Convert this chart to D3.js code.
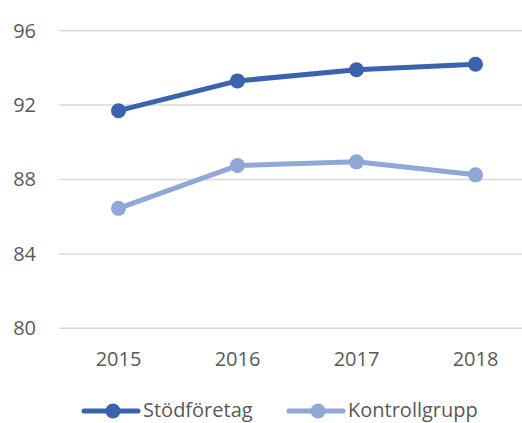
<!DOCTYPE html>
<html><head><meta charset="utf-8">
<script src="https://cdn.jsdelivr.net/npm/d3@7"></script>
<style>
html,body{margin:0;padding:0;background:#fff;}
svg{display:block;font-family:"Open Sans",sans-serif;}
</style></head>
<body>
<script>
const years = ["2015","2016","2017","2018"];
const stod = [91.7, 93.3, 93.9, 94.2];
const kontroll = [86.45, 88.75, 88.95, 88.25];
const seriesNames = ["Stödföretag","Kontrollgrupp"];
const seriesColors = ["#3A62AD","#8FA8D8"];
const yTicks = [80,84,88,92,96];

const W = 522, H = 423;
const svg = d3.select("body").append("svg").attr("width",W).attr("height",H);

const x = d3.scaleBand().domain(years).range([59,535]);
const y = d3.scaleLinear().domain([80,96]).range([328.3,30.7]);

// gridlines
svg.append("g").selectAll("line").data(yTicks).join("line")
  .attr("x1",59).attr("x2",W)
  .attr("y1",d=>y(d)).attr("y2",d=>y(d))
  .attr("stroke","#d9d9d9").attr("stroke-width",1.5);

// y axis labels
const yAxis = d3.axisLeft(y).tickValues(yTicks).tickSize(0).tickPadding(0);
const gy = svg.append("g").attr("transform","translate(36,0)").call(yAxis);
gy.select(".domain").remove();
gy.selectAll("text").attr("font-size",20).attr("fill","#595959").attr("font-family","Open Sans");

// x axis labels
const xAxis = d3.axisBottom(x).tickSize(0).tickPadding(0);
const gx = svg.append("g").attr("transform","translate(0,352)").call(xAxis);
gx.select(".domain").remove();
gx.selectAll("text").attr("font-size",20).attr("fill","#595959").attr("font-family","Open Sans").attr("dy","0.71em");

const data = [stod, kontroll];
const line = d3.line().x((d,i)=>x(years[i])+x.bandwidth()/2).y(d=>y(d));
data.forEach((s,k)=>{
  svg.append("path").datum(s).attr("d",line).attr("fill","none")
    .attr("stroke",seriesColors[k]).attr("stroke-width",5).attr("stroke-linejoin","round");
  svg.append("g").selectAll("circle").data(s).join("circle")
    .attr("cx",(d,i)=>x(years[i])+x.bandwidth()/2).attr("cy",d=>y(d)).attr("r",7.5)
    .attr("fill",seriesColors[k]);
});

// legend
const legX = [84, 289];
seriesNames.forEach((n,k)=>{
  const g = svg.append("g").attr("transform",`translate(${legX[k]},411)`);
  g.append("line").attr("x1",0).attr("x2",54).attr("y1",0).attr("y2",0)
    .attr("stroke",seriesColors[k]).attr("stroke-width",5).attr("stroke-linecap","round");
  g.append("circle").attr("cx",29).attr("cy",0).attr("r",7.5).attr("fill",seriesColors[k]);
  g.append("text").attr("x",59).attr("y",0).attr("dy","0.3em").attr("font-size",20)
    .attr("fill","#595959").text(n);
});
</script>
</body></html>
